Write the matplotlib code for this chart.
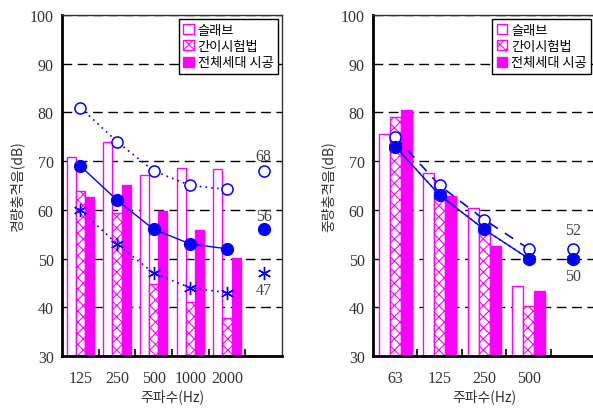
import numpy as np
import matplotlib
matplotlib.use("Agg")
import matplotlib.pyplot as plt

# Left chart: 경량충격음
left_freqs = ["125", "250", "500", "1000", "2000"]
left_slab = [70.9, 73.9, 67.2, 68.6, 68.4]
left_simple = [63.9, 59.3, 44.8, 41.0, 37.8]
left_full = [62.7, 65.0, 59.8, 55.9, 50.1]
left_open = [81, 74, 68, 65, 64.2]
left_filled = [69, 62, 56, 53, 52]
left_star = [60, 53, 47, 44, 43]
left_single = {"open": 68, "filled": 56, "star": 47}

# Right chart: 중량충격음
right_freqs = ["63", "125", "250", "500"]
right_slab = [75.6, 67.5, 60.3, 44.3]
right_simple = [79.0, 63.0, 57.0, 40.3]
right_full = [80.5, 62.8, 52.6, 43.3]
right_open = [75, 65, 58, 52]
right_filled = [73, 63, 56, 50]
right_star = [73, 63, 56, 50]
right_single = {"open": 52, "filled": 50, "star": 50}

legend_labels = ["슬래브", "간이시험법", "전체세대 시공"]

MAG = "#ff00ff"
BLUE = "#0000ff"
KR = "Noto Sans CJK KR"
NUM = "Liberation Serif"
plt.rcParams["hatch.linewidth"] = 0.8

fig = plt.figure(figsize=(5.93, 4.10), dpi=100)
ax1 = fig.add_axes([0.1046, 0.1293, 0.3709, 0.8317])
ax2 = fig.add_axes([0.629, 0.1293, 0.375, 0.8317])


def draw(ax, freqs, slab, simple, full, opn, fil, star, single, open_ls, star_ls,
         ylabel, labels_out):
    n = len(freqs)
    x = np.arange(n)
    w = 0.25
    b1 = ax.bar(x - w, np.array(slab) - 30, w, bottom=30, facecolor="white",
                edgecolor=MAG, linewidth=1.0, zorder=2)
    b2 = ax.bar(x, np.array(simple) - 30, w, bottom=30, facecolor="white",
                edgecolor=MAG, hatch="xxx", linewidth=1.0, zorder=2)
    b3 = ax.bar(x + w, np.array(full) - 30, w, bottom=30, facecolor=MAG,
                edgecolor=MAG, linewidth=1.0, zorder=2)

    ax.plot(x, star, linestyle=star_ls, color=BLUE, lw=1.2, marker=(6, 2, 0),
            markersize=9.5, markeredgewidth=1.0, zorder=3)
    ax.plot(x, opn, linestyle=open_ls, color=BLUE, lw=1.2, marker="o",
            markersize=8, markerfacecolor="white", markeredgewidth=1.1, zorder=4)
    ax.plot(x, fil, linestyle="-", color=BLUE, lw=1.0, marker="o",
            markersize=8.5, markerfacecolor=BLUE, zorder=5)

    # single-number values
    ax.plot([n], [single["star"]], marker=(6, 2, 0), color=BLUE, markersize=9.5,
            markeredgewidth=1.0, linestyle="none", zorder=3)
    ax.plot([n], [single["open"]], marker="o", color=BLUE, markersize=8,
            markerfacecolor="white", markeredgewidth=1.1, linestyle="none", zorder=4)
    ax.plot([n], [single["filled"]], marker="o", color=BLUE, markersize=8.5,
            linestyle="none", zorder=5)
    for txt, yv in labels_out:
        ax.text(n, yv, txt, ha="center", va="center", fontsize=11.5,
                family=NUM, color="#444444")

    ax.set_xlim(-0.5, n + 0.5)
    ax.set_ylim(30, 100)
    ax.set_yticks(range(30, 101, 10))
    ax.set_xticks(x)
    ax.set_xticklabels(freqs, family=NUM, fontsize=11.5, color="#333333")
    ax.set_xticks(np.arange(0.5, n, 1), minor=True)
    ax.tick_params(axis="x", which="major", length=0, pad=10)
    ax.tick_params(axis="x", which="minor", direction="in", length=5, width=1.2)
    ax.tick_params(axis="y", length=0, pad=6)
    for lab in ax.get_yticklabels():
        lab.set_family(NUM)
        lab.set_fontsize(11.5)
        lab.set_color("#333333")
    ax.yaxis.grid(True, linestyle=(0, (7, 4)), color="black", lw=1.0, zorder=0)
    ax.set_axisbelow(True)

    for s in ["left", "bottom"]:
        ax.spines[s].set_linewidth(2)
    for s in ["top", "right"]:
        ax.spines[s].set_linewidth(1)
        ax.spines[s].set_color("#333333")

    ax.set_xlabel("주파수(Hz)", family=KR, fontsize=10, color="#333333", labelpad=2)
    ax.set_ylabel(ylabel, family=KR, fontsize=10, color="#333333", labelpad=4)

    leg = ax.legend([b1, b2, b3], legend_labels, loc="upper right",
                    prop={"family": KR, "size": 9.5}, handlelength=0.8,
                    handleheight=0.8, handletextpad=0.3, borderpad=0.35,
                    labelspacing=0.25, fancybox=False, framealpha=1,
                    edgecolor="black", borderaxespad=0.3)
    leg.get_frame().set_linewidth(1.0)
    leg.set_zorder(10)


draw(ax1, left_freqs, left_slab, left_simple, left_full, left_open, left_filled,
     left_star, left_single, (0, (1, 2.5)), (0, (1, 2.5)), "경량충격음(dB)",
     [("68", 71.1), ("56", 58.8), ("47", 43.6)])
draw(ax2, right_freqs, right_slab, right_simple, right_full, right_open, right_filled,
     right_star, right_single, (0, (6, 5)), (0, (1, 2.5)), "중량충격음(dB)",
     [("52", 55.9), ("50", 46.5)])

fig.savefig("out.png", dpi=100)
